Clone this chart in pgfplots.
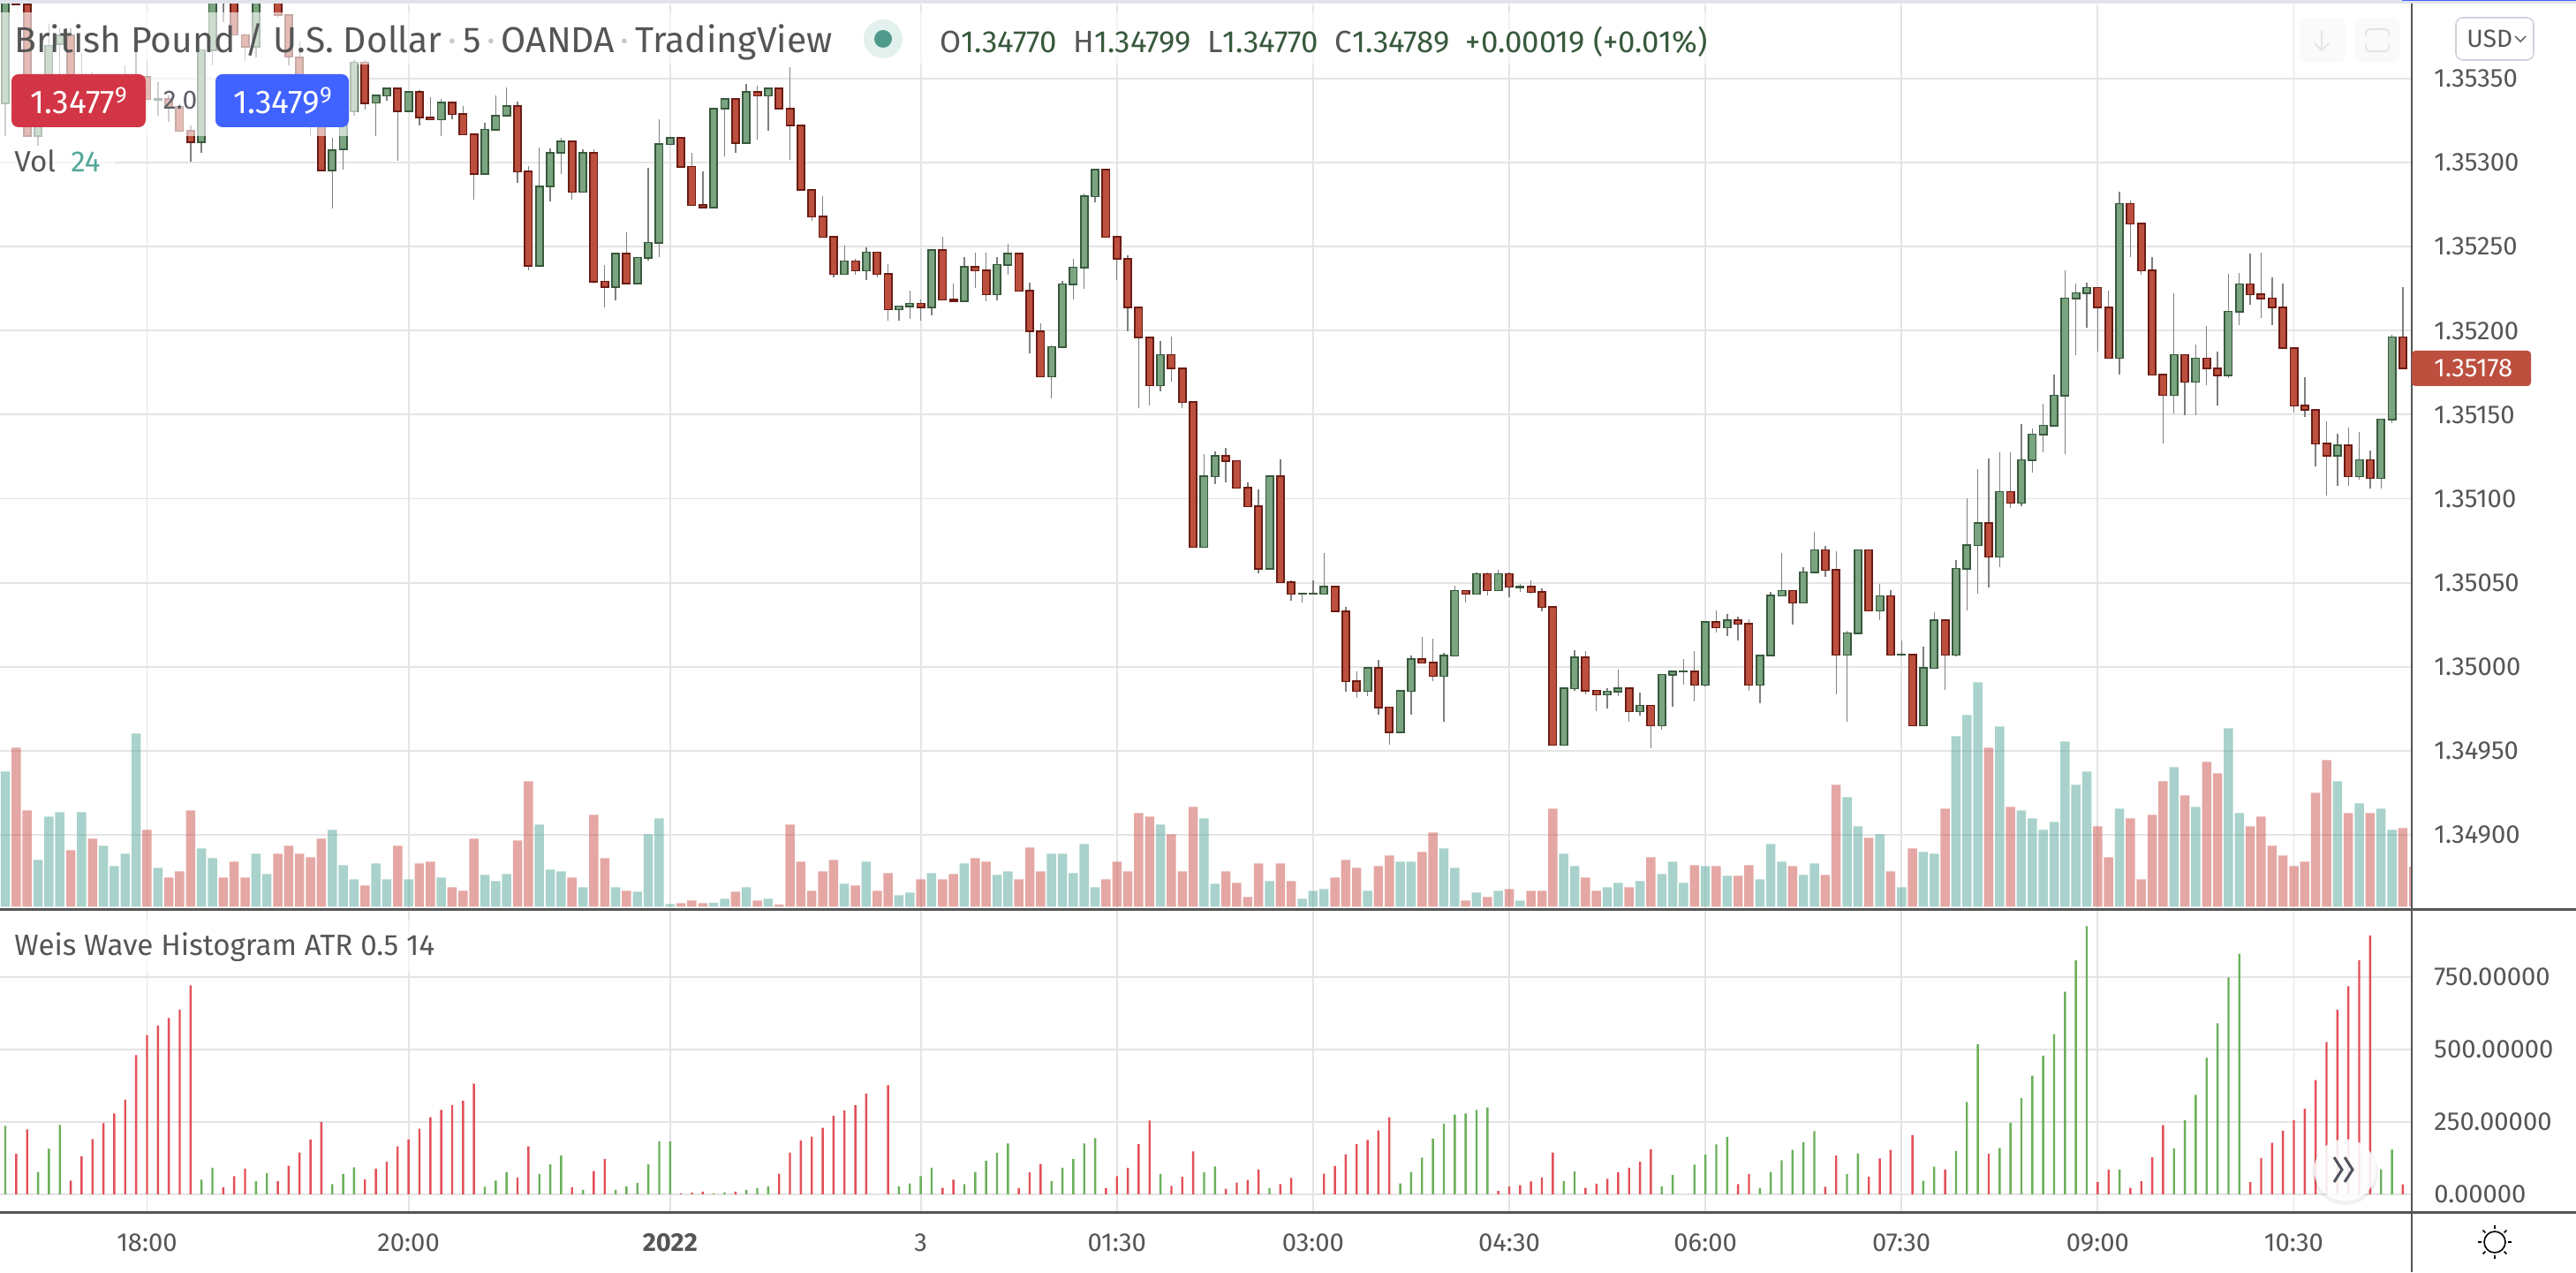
\documentclass[border=0pt]{standalone}
\usepackage{fontspec}
\setmainfont{Fira Sans}
\usepackage{pgfplots}
\usepackage{pgfplotstable}
\pgfplotsset{compat=1.18}
\definecolor{gridc}{HTML}{E4E4E4}
\definecolor{wickc}{HTML}{7F7F7F}
\definecolor{rfill}{HTML}{BC4F3E}
\definecolor{rline}{HTML}{6A1C14}
\definecolor{gfill}{HTML}{7BA480}
\definecolor{gline}{HTML}{38593D}
\definecolor{vr}{HTML}{CB514B}
\definecolor{vg}{HTML}{53A799}
\definecolor{wr}{HTML}{E35058}
\definecolor{wg}{HTML}{6BB05A}
\definecolor{txt}{HTML}{555555}
\definecolor{dotc}{HTML}{C5C8CF}
% Prices are in units of 0.00001 above 1.34000 (779 = 1.34779); v = volume bar height.
\pgfplotstableread{
i o h l c v
-12 1400 1402 1394 1394 180
-11 1394 1396 1315.8 1315.8 109
-7 1375.8 1379.8 1340 1340 64
-5 1345 1354 1335 1338 77
0 1350.9 1360.3 1337.7 1337.7 87
2 1338 1340 1324 1333 33
3 1333.4 1335 1318 1318.8 40
4 1318.8 1322 1300.4 1312 109
7 1410 1412 1383.6 1402 33
8 1402 1404 1376 1376 51
9 1376 1377 1360.3 1369 33
12 1402 1404 1386 1388 60
13 1387.7 1388.5 1358 1363 69
14 1362.6 1372 1340 1345 60
15 1345 1348 1315.8 1337 56
16 1337 1338 1295 1295.5 77
20 1359.6 1361 1331.6 1335.5 24
23 1344.2 1344.5 1301.3 1330.7 69
25 1342 1343 1322.3 1326.7 49
26 1326.7 1339 1325.6 1325.6 51
28 1335.6 1336 1325.8 1328.8 22
29 1328.8 1333.7 1316.7 1316.7 18
30 1316.7 1317 1278.2 1293.4 77
34 1333.5 1336.3 1288.1 1294.6 75
35 1294.6 1297.8 1236.1 1238.7 142
39 1312.5 1313 1278.2 1282.5 33
41 1305.7 1308 1228.2 1229.3 104
42 1229.3 1239 1214 1225.8 55
44 1245.7 1258.3 1227.9 1227.9 18
49 1314.6 1315 1297.6 1297.6 4
50 1297.6 1306 1274.6 1274.6 7
51 1274.6 1294.8 1273.2 1273.2 4
54 1337.7 1338.5 1306 1311.8 17
56 1342 1345.6 1313.9 1339.8 7
58 1344 1344.5 1332 1332 2.5
59 1332 1356.8 1301.8 1322 93
60 1322 1322.5 1283.6 1283.6 51
61 1283.6 1284 1265.4 1267.8 18
62 1267.8 1280.3 1255.2 1255.7 40
63 1255.7 1256.5 1231.7 1233.6 53
65 1241.3 1242.6 1233.3 1235.7 24
67 1246.6 1247 1231.9 1233.6 18
68 1233.6 1239.6 1206.1 1212.6 38
71 1216.1 1218.6 1206.1 1213.7 31
73 1247.8 1255.9 1218.4 1218.4 31
74 1218.4 1228 1217 1217.7 37
76 1237.8 1246.4 1225.4 1235.7 55
77 1235.7 1246.4 1217.7 1221.5 51
80 1245.7 1246.4 1223.6 1223.6 31
81 1223.6 1228.6 1186.5 1199.5 67
82 1199.5 1204.4 1172.6 1172.6 40
88 1295.7 1296 1255.7 1255.7 31
89 1255.7 1256 1230 1242.6 51
90 1242.6 1244.7 1199.8 1213.7 40
91 1213.7 1214 1154.1 1195.8 106
92 1195.8 1196 1155.5 1167.4 102
94 1185.6 1196.5 1169.7 1177.4 82
95 1177.4 1178 1154.1 1157.4 40
96 1157.4 1158 1071.2 1071.2 113
99 1125.3 1130 1109.9 1122.5 40
100 1122.5 1123 1106.4 1106.4 27
101 1106.4 1109.7 1095.3 1095.3 11
102 1095.3 1105.5 1055.7 1058.4 49
104 1113.2 1123.4 1050.1 1050.1 49
105 1050.1 1051.5 1039.3 1043.3 29
109 1047.5 1048 1033.1 1033.1 33
110 1033.1 1035.4 985.3 991.2 53
111 991.2 997.2 981.4 985.5 44
113 999.1 1003.9 971.6 975.8 46
114 975.8 976 953.4 961.1 58
117 1004.4 1017.7 1002.3 1002.3 62
118 1002.3 1016.5 991.6 994.4 84
121 1045.2 1045.5 1038.4 1043.3 7
123 1055.2 1056 1042.6 1045.4 11
125 1055.2 1056 1041.5 1047.5 20
127 1047.5 1051.4 1043.6 1044.3 18
128 1044.3 1046.6 1033.1 1035.4 18
129 1035.4 1036 953.4 953.4 111
132 1005.4 1009.1 983.5 985.8 33
133 985.8 986 973.7 983.4 18
136 987 987.5 967.4 973.4 22
138 977 977 951.6 965 56
142 997 1009.1 979.5 989.1 47
144 1026.5 1033.3 1020.5 1023.3 46
146 1027.5 1029.8 1015.8 1025.4 35
147 1025.4 1028.2 985.8 989.1 47
151 1045.2 1045.5 1025.2 1038 46
154 1069.4 1071.7 1053.6 1057.5 36
155 1057.5 1068.7 983.7 1007 138
158 1069.4 1070 1033.3 1033.3 78
160 1042.1 1045.4 1007 1007 40
162 1007 1007.5 965 965 66
165 1027.5 1028 986.2 1007 111
169 1085.4 1123.9 1047.3 1065.4 180
171 1104.1 1127.4 1094.6 1097.4 113
179 1225.6 1226 1187.6 1213.7 91
180 1213.7 1223.6 1183.7 1183.7 56
182 1275.5 1277.6 1244 1263.6 100
183 1263.6 1264 1233 1235.7 31
184 1235.7 1243.8 1173.7 1173.7 104
185 1173.7 1174.5 1133 1161.6 142
187 1185.6 1186 1149.7 1169.5 126
189 1183.5 1202.8 1167.7 1177.4 164
190 1177.4 1187.6 1155.5 1173.2 151
193 1227.7 1246.1 1215.4 1221.5 91
194 1221.5 1246.4 1207.5 1219.3 102
195 1219.3 1231.7 1203.5 1213.7 69
196 1213.7 1228 1189.5 1189.5 58
197 1189.5 1190 1151.5 1155.3 46
198 1155.3 1172.1 1148.8 1152.7 51
199 1152.7 1153 1119.4 1132.7 129
200 1132.7 1145.8 1102 1125.5 166
202 1131.6 1142.3 1107.6 1113.2 106
204 1123 1128.6 1105.9 1112.2 106
207 1196.1 1225.9 1177.4 1177.4 89
}\redt
\pgfplotstableread{
i o h l c v
-13 1335.5 1410 1316 1400 153
-10 1316 1350 1310 1345 53
-9 1345 1382.8 1340 1369.6 102
-8 1370.5 1379.8 1352.6 1375.8 107
-6 1340 1365 1335 1345 107
-4 1338 1345 1335 1342 69
-3 1340 1345 1335 1343 46
-2 1338 1358 1332 1342 60
-1 1325 1369.6 1322 1350 196
1 1337.5 1347.7 1328 1337.9 44
5 1312 1367 1306 1367 66
6 1367 1410 1358 1402 55
10 1369 1410 1362.6 1402 60
11 1405 1415 1398 1410 37
17 1295.5 1315 1272.9 1307.4 87
18 1307.8 1333 1296 1330 47
19 1330.6 1361 1328 1359.6 31
21 1335.6 1340 1315.8 1339.8 49
22 1339.8 1344.5 1337 1344.2 31
24 1330.7 1342.5 1330 1342 31
27 1325.6 1337.7 1316 1335.6 33
31 1293.4 1323.5 1293.4 1319.7 36
32 1319.7 1339.8 1319.7 1327.8 29
33 1327.8 1344.7 1327.8 1333.5 37
36 1238.7 1309.2 1238.7 1285.7 93
37 1285.7 1308.3 1277.1 1305.7 42
38 1305.7 1314.8 1293.4 1312.5 40
40 1282.5 1308 1282.5 1305.7 22
43 1225.8 1246.4 1218 1245.7 22
45 1227.9 1244 1227.9 1243.4 17
46 1243.4 1296.9 1241.7 1252.4 82
47 1252.4 1325.8 1243.8 1310.9 100
48 1310.9 1315 1310.9 1314.6 3
52 1273.2 1332.5 1273.2 1332 4.5
53 1332 1338 1303.9 1337.7 9
55 1311.8 1346.8 1311.8 1342 22
57 1339.8 1344 1319.2 1344 9
64 1233.6 1250.8 1233.6 1241.3 26
66 1235.7 1249.6 1230 1246.6 51
69 1212.6 1215 1205.8 1214.5 13
70 1214.5 1223.8 1207.2 1216.1 16
72 1213.7 1248 1209.3 1247.8 38
75 1217.7 1243.8 1217.7 1237.8 49
78 1221.5 1243.8 1218 1239.2 36
79 1239.2 1251.7 1233 1245.7 40
83 1172.6 1191 1159.9 1190.4 60
84 1190.4 1229.4 1190.4 1227.7 60
85 1227.7 1242.6 1218.6 1237.7 38
86 1237.7 1281.5 1225 1279.9 71
87 1279.9 1296 1276.2 1295.7 22
93 1167.4 1193.9 1164.1 1185.6 93
97 1071.2 1126.5 1071.2 1113.2 100
98 1113.2 1127.9 1108.8 1125.3 26
103 1058.4 1113.5 1058.4 1113.2 29
106 1043.3 1043.8 1038.4 1043.6 9
107 1043.3 1051.5 1043 1043.6 18
108 1043.3 1067.7 1043.3 1047.5 20
112 985.5 999.5 982.5 999.1 18
115 961.1 986 961.1 985.5 51
116 985.5 1006.5 971.6 1004.4 51
119 994.4 1008.2 967.4 1006.5 66
120 1006.5 1048 1006.5 1045.2 44
122 1043.3 1055.9 1043.3 1055.2 16
124 1045.4 1057.5 1045.4 1055.2 18
126 1047.3 1049.2 1044.5 1047.6 7
130 953.4 987.7 953.4 987 60
131 987 1009.8 985.8 1005.4 46
134 983.4 987 975.3 985.3 22
135 985.3 998.2 982.7 987 27
137 973.4 984.6 970.9 977 29
139 965 995.5 962.7 995.3 37
140 995.3 997.5 976.3 997 51
141 997 1004.6 989.3 997.2 27
143 989.1 1027 988.4 1026.5 46
145 1023.3 1031.4 1018.2 1027.5 35
148 989.1 1007 978.4 1006.8 31
149 1006.8 1044.5 1006 1042.2 71
150 1042.2 1067.7 1042.2 1045.2 51
152 1038 1059 1038 1056.3 36
153 1056.3 1080.1 1056.3 1069.4 49
156 1007 1021.4 967.4 1020 124
157 1020 1069.5 1020 1069.4 91
159 1033.3 1049.1 1027.9 1042.1 82
161 1007 1015.6 1006 1007.2 22
163 965 1011.7 965 999.1 62
164 999.1 1032.2 999.1 1027.5 60
166 1007 1063.3 1006 1058.4 193
167 1058.4 1100.3 1033.7 1072.2 217
168 1072.2 1117.6 1043.6 1085.4 254
170 1065.4 1127.4 1059.4 1104.1 204
172 1097.4 1144.4 1095.7 1123 109
173 1123 1141.8 1115.7 1138.3 100
174 1138.3 1156.7 1127.8 1143.6 87
175 1143.6 1173.9 1143.6 1161.4 96
176 1161.4 1235.9 1126.5 1219.3 187
177 1219.3 1228 1185.6 1222.4 138
178 1222.4 1228.6 1201.9 1225.6 153
181 1183.7 1282.7 1173.9 1275.5 111
186 1161.6 1222.2 1150.9 1185.6 158
188 1169.5 1191.8 1149.7 1183.5 113
191 1173.2 1233.8 1171.6 1211.4 202
192 1211.4 1234.2 1203.5 1227.7 106
201 1125.5 1138.8 1107.6 1131.6 142
203 1113.2 1139.5 1111.1 1123 117
205 1112.2 1147.5 1105.9 1147.2 111
206 1147.2 1197.4 1144.8 1196.1 87
}\greent
% candle series: #1 table, #2 lower body column, #3 upper body column, #4 fill, #5 outline
\newcommand\candles[5]{%
\addplot[draw=none,forget plot,error bars/.cd,y dir=both,y explicit,error mark=none,
  error bar style={color=wickc,line width=.7pt,line cap=butt}]
  table[x=i,y=#2,y error plus expr=\thisrow{h}-\thisrow{#2},y error minus expr=\thisrow{#2}-\thisrow{l}]{#1};
\addplot[draw=none,forget plot,error bars/.cd,y dir=both,y explicit,error mark=none,
  error bar style={color=#5,line width=5pt,line cap=butt}]
  table[x=i,y=#2,y error plus expr=\thisrow{#3}-\thisrow{#2}+0.5,y error minus expr=0.5]{#1};
\addplot[draw=none,forget plot,error bars/.cd,y dir=plus,y explicit,error mark=none,
  error bar style={color=#4,line width=3.2pt,line cap=butt}]
  table[x=i,y expr=\thisrow{#2}+0.4,y error plus expr={max(\thisrow{#3}-\thisrow{#2}-0.8,0)}]{#1};
}
\pgfplotsset{paneaxis/.style={
  scale only axis,enlargelimits=false,
  xmin=-13.49,xmax=207.82,
  axis line style={draw=none},major tick length=0pt,
  xtick={0,24,48,71,89,107,125,143,161,179,197},
  grid=major,grid style={color=gridc,line width=.95pt},
  yticklabel pos=right,scaled y ticks=false,
  tick label style={font=\fontsize{14.6}{17}\selectfont,color=txt},
  y tick label style={anchor=west,inner sep=0pt,xshift=12.5pt},
}}
\begin{document}
\begin{tikzpicture}
\path[use as bounding box,fill=white] (0pt,0pt) rectangle (1458.5pt,720pt);
% price pane
\begin{axis}[paneaxis,at={(0pt,205.5pt)},anchor=south west,width=1365.5pt,height=512.15pt,
  ymin=855.8,ymax=1394.3,
  ytick={900,950,1000,1050,1100,1150,1200,1250,1300,1350},
  yticklabels={1.34900,1.34950,1.35000,1.35050,1.35100,1.35150,1.35200,1.35250,1.35300,1.35350},
  xticklabels={}]
\candles{\redt}{c}{o}{rfill}{rline}
\candles{\greent}{o}{c}{gfill}{gline}
\end{axis}
% volume, same pane
\begin{axis}[scale only axis,enlargelimits=false,hide axis,at={(0pt,205.5pt)},anchor=south west,
  width=1365.5pt,height=512.15pt,xmin=-13.49,xmax=207.82,ymin=-2.5,ymax=1021.8,clip=true]
\addplot[ybar,bar shift=0pt,bar width=5.25pt,fill=vr,fill opacity=.5,draw=none,forget plot] table[x=i,y=v]{\redt};
\addplot[ybar,bar shift=0pt,bar width=5.25pt,fill=vr,fill opacity=.5,draw=none,forget plot] coordinates {(208,45)};
\addplot[ybar,bar shift=0pt,bar width=5.25pt,fill=vg,fill opacity=.5,draw=none,forget plot] table[x=i,y=v]{\greent};
\end{axis}
% Weis Wave pane
\begin{axis}[paneaxis,at={(0pt,33.7pt)},anchor=south west,width=1365.5pt,height=171.55pt,
  ymin=-63.4,ymax=982.6,
  ytick={0,250,500,750},yticklabels={0.00000,250.00000,500.00000,750.00000},
  xticklabels={18:00,20:00,\textbf{2022},3,01:30,03:00,04:30,06:00,07:30,09:00,10:30},
  x tick label style={anchor=center,inner sep=0pt,yshift=-17.2pt}]
\addplot[ybar,bar shift=0pt,bar width=1.2pt,fill=wr,draw=none,forget plot] coordinates {
(-12,139)(-11,224)(-7,47)(-6,131)(-5,190)(-4,245)(-3,279)(-2,326)(-1,480)(0,549)(1,582)(2,608)(3,637)(4,721)
(7,24)(8,62)(9,88)(12,45)(13,98)(14,144)(15,189)(16,249)(20,51)(21,88)(22,112)(23,165)(24,189)(25,226)(26,266)(27,291)(28,308)(29,322)(30,382)
(34,57)(35,165)(39,24)(41,80)(42,122)(49,2.5)(50,6)(51,9)(54,9)(58,71)(59,144)(60,185)(61,199)(62,229)(63,270)(64,289)(65,307)(66,347)(68,376)
(73,22)(74,50)(80,21)(81,75)(82,104)(88,21)(89,62)(90,91)(91,173)(92,254)(94,29)(95,60)(96,148)(99,19)(100,40)(101,49)(102,85)(104,35)(105,56)
(108,71)(109,97)(110,138)(111,173)(112,187)(113,220)(114,266)(124,11)(125,27)(126,31)(127,44)(128,58)(129,144)(132,22)(133,36)(134,53)(135,75)(136,91)(137,112)(138,155)
(146,35)(147,70)(154,26)(155,133)(158,60)(159,123)(160,153)(162,204)(165,85)(169,139)(179,42)(180,85)(182,22)(183,45)(184,127)(185,238)
(193,42)(194,124)(195,177)(196,219)(197,255)(198,295)(199,394)(200,525)(201,636)(202,718)(203,808)(204,892)(207,34)};
\addplot[ybar,bar shift=0pt,bar width=1.2pt,fill=wg,draw=none,forget plot] coordinates {
(-13,236)(-10,77)(-9,157)(-8,239)(5,50)(6,91)(10,45)(11,73)(17,35)(18,70)(19,93)(31,26)(32,47)(33,76)(36,70)(37,103)(38,133)(40,15)(43,15)(44,27)(45,39)(46,103)(47,182)(48,182)
(52,2.5)(53,7)(55,15)(56,21)(57,27)(69,27)(70,37)(71,62)(72,91)(75,35)(76,77)(77,116)(78,143)(79,175)(83,45)(84,91)(85,122)(86,175)(87,193)(93,70)(97,76)(98,96)(103,20)
(115,37)(116,77)(117,126)(118,192)(119,243)(120,275)(121,279)(122,291)(123,299)(130,45)(131,78)(139,27)(140,66)(142,102)(143,137)(144,172)(145,198)(148,22)(149,77)(150,117)(151,153)(152,179)(153,218)
(156,70)(157,141)(163,46)(164,95)(166,149)(167,318)(168,517)(170,159)(171,246)(172,332)(173,409)(174,478)(175,552)(176,699)(177,807)(178,925)(181,85)
(186,158)(187,255)(188,343)(189,471)(190,590)(191,748)(192,830)(205,86)(206,154)};
\end{axis}
% chrome, in reference pixels
\begin{scope}[shift={(0pt,720pt)},x=.5pt,y=-.5pt]
% translucent legend backgrounds
\fill[white,opacity=.62] (0,14) rectangle (1935,73);
\fill[white,opacity=.62] (0,73) rectangle (405,154);
\fill[white,opacity=.62] (0,154) rectangle (130,195);
\fill[white,opacity=.62] (0,1042) rectangle (495,1100);
% frame lines
\fill[color={rgb,255:red,224;green,227;blue,235}] (0,0) rectangle (2917,4);
\fill[color={rgb,255:red,64;green,98;blue,255}] (2720,0) rectangle (2917,1.5);
\draw[color=txt,line width=1.5pt] (0,1029.5) -- (2917,1029.5);
\draw[color=txt,line width=1.2pt] (0,1372.6) -- (2917,1372.6);
\draw[color=txt,line width=.9pt] (2731,4) -- (2731,1440);
% title row
\node[anchor=base west,inner sep=0pt,color=txt] at (16,60) {\fontsize{20.4}{24}\selectfont British Pound / U.S. Dollar\textcolor{dotc}{\,·\,}5\textcolor{dotc}{\,·\,}OANDA\textcolor{dotc}{\,·\,}TradingView};
\fill[color={rgb,255:red,226;green,241;blue,237}] (1000,44) circle (22);
\fill[color={rgb,255:red,79;green,154;blue,139}] (1000,44) circle (10);
\node[anchor=base west,inner sep=0pt,color=gline] at (1064,60) {\fontsize{17.4}{20}\selectfont \textcolor{txt}{O}1.34770\ \ \textcolor{txt}{H}1.34799\ \ \textcolor{txt}{L}1.34770\ \ \textcolor{txt}{C}1.34789\ \ +0.00019 (+0.01\%)};
% buy / sell buttons
\fill[color={rgb,255:red,210;green,53;blue,69},rounded corners=4pt] (13,84) rectangle (165,144);
\fill[color={rgb,255:red,64;green,98;blue,255},rounded corners=4pt] (244,84) rectangle (395,144);
\node[color=white,inner sep=0pt] at (89,114) {\fontsize{18.6}{22}\selectfont 1.3477\raisebox{.33em}{\fontsize{13}{15}\selectfont 9}};
\node[color=white,inner sep=0pt] at (320,114) {\fontsize{18.6}{22}\selectfont 1.3479\raisebox{.33em}{\fontsize{13}{15}\selectfont 9}};
\node[color={rgb,255:red,93;green,96;blue,107},inner sep=0pt] at (204,114) {\fontsize{15}{18}\selectfont 2.0};
\node[anchor=base west,inner sep=0pt,color=txt] at (16,195) {\fontsize{16.6}{19}\selectfont Vol};
\node[anchor=base west,inner sep=0pt,color=vg] at (80,195) {\fontsize{16.6}{19}\selectfont 24};
\node[anchor=base west,inner sep=0pt,color=txt] at (16,1082) {\fontsize{16.6}{19}\selectfont Weis Wave Histogram ATR 0.5 14};
% top right controls
\fill[color={rgb,255:red,250;green,250;blue,250},rounded corners=3pt] (2604,20) rectangle (2655,71);
\fill[color={rgb,255:red,250;green,250;blue,250},rounded corners=3pt] (2667,20) rectangle (2717,71);
\draw[color=gridc,line width=.8pt] (2629,35) -- (2629,57) (2621,49) -- (2629,57) -- (2637,49);
\draw[color=gridc,line width=.9pt,rounded corners=2pt] (2692,33) -- (2679,33) -- (2679,41) (2705,41) -- (2705,33) -- (2692,33) (2679,50) -- (2679,58) -- (2705,58) -- (2705,50);
\draw[color={rgb,255:red,208;green,211;blue,220},fill=white,line width=.8pt,rounded corners=4pt] (2781,20) rectangle (2869,68);
\node[color=txt,inner sep=0pt,anchor=west] at (2793,44) {\fontsize{14}{16}\selectfont USD};
\draw[color=txt,line width=.7pt] (2848,41) -- (2854,47) -- (2860,41);
% last price label
\fill[color=rfill,rounded corners=2pt] (2731,397) rectangle (2866,437);
\node[color=white,inner sep=0pt,anchor=west] at (2756,417) {\fontsize{14.6}{17}\selectfont 1.35178};
% scroll button and settings icon
\fill[color=black,opacity=.06] (2655.5,1327) circle (37);
\fill[color=white,opacity=.88] (2655.5,1324.5) circle (35);
\draw[color={rgb,255:red,80;green,83;blue,94},line width=1.5pt] (2643,1310) -- (2652,1324) -- (2643,1338) (2655,1310) -- (2664,1324) -- (2655,1338);
\draw[color=black,line width=.8pt] (2825,1406) circle (12);
\foreach \a in {0,45,...,315} \draw[color=black,line width=.8pt] (2825,1406) ++(\a:15) -- ++(\a:4);
\end{scope}
\end{tikzpicture}
\end{document}
